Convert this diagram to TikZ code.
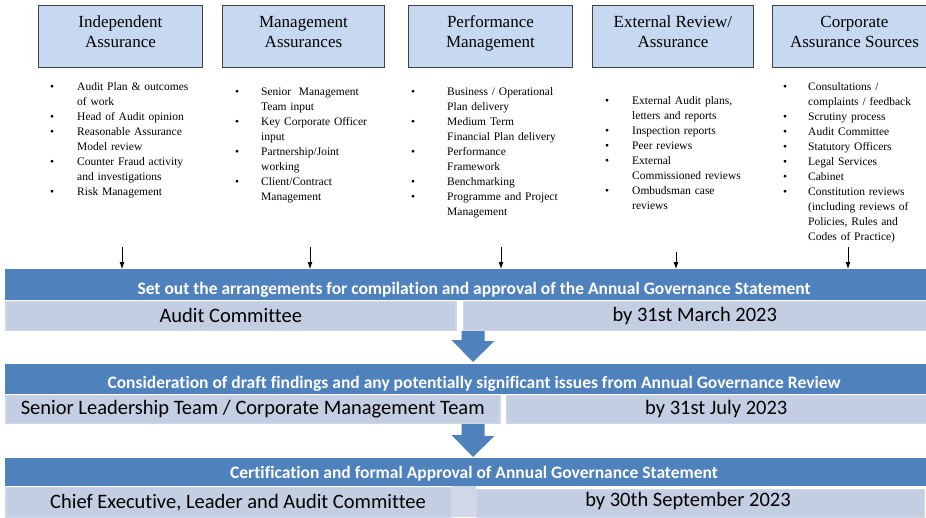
\documentclass[tikz,border=0pt]{standalone}
\usepackage{fontspec}
\setmainfont{Liberation Serif}
\newfontfamily\barfont[Ligatures=NoCommon]{Carlito}
\usepackage{enumitem}
\usetikzlibrary{positioning}
\usetikzlibrary{arrows.meta}
\definecolor{hdrfill}{HTML}{C6D9F1}
\definecolor{hdrline}{HTML}{404040}
\definecolor{barblue}{HTML}{4F81BD}
\definecolor{cellfill}{HTML}{C3CEE2}
\definecolor{celledge}{HTML}{D0D8E8}
\setlist[itemize]{nosep, label={\textbullet}, labelwidth=4pt, labelsep=*, align=right}

\tikzset{
hdr/.style={draw=hdrline, fill=hdrfill, line width=0.9pt, anchor=north west,
  minimum width=164pt, minimum height=62pt, inner sep=0pt},
hdrtext/.style={align=center, inner sep=0pt, font=\fontsize{17}{19.5}\selectfont},
blist/.style={anchor=north west, inner sep=0pt, text width=170pt,
  font=\fontsize{11.5}{15}\selectfont},
darkbar/.style={fill=barblue, anchor=north west, minimum width=921pt,
  inner sep=0pt},
bartext/.style={text=white, inner sep=0pt, font=\barfont\bfseries\fontsize{17.5}{19}\selectfont},
cell/.style={fill=cellfill, draw=celledge, line width=1.5pt, anchor=north west,
  inner sep=0pt, font=\barfont\fontsize{20.5}{22}\selectfont},
celltext/.style={inner sep=0pt, font=\barfont\fontsize{20.5}{22}\selectfont},
gap/.style={fill=celledge, anchor=north west, inner sep=0pt},
smallarr/.style={-{Latex[length=7pt,width=5pt]}, line width=0.8pt},
bigarr/.style={fill=barblue},
}

\begin{document}
\begin{tikzpicture}[x=1pt,y=-1pt]
\useasboundingbox (0,0) rectangle (926,517);

% assurance sources
\node[hdr] (hIndep) at (38,5) {};
\node[hdr, minimum width=162pt] (hMgmt) at (222,5) {};
\node[hdr] (hPerf) at (408,5) {};
\node[hdr, minimum width=161pt] (hExt) at (592,5) {};
\node[hdr] (hCorp) at (772,5) {};
\node[hdrtext] (hIndepTxt) at ([yshift=3pt]hIndep.center) {\strut Independent\\\strut Assurance};
\node[hdrtext] (hMgmtTxt) at ([yshift=3pt]hMgmt.center) {\strut Management\\\strut Assurances};
\node[hdrtext] (hPerfTxt) at ([yshift=3pt]hPerf.center) {\strut Performance\\\strut Management};
\node[hdrtext] (hExtTxt) at ([yshift=3pt]hExt.center) {\strut External Review/\\\strut Assurance};
\node[hdrtext] (hCorpTxt) at ([yshift=3pt]hCorp.center) {\strut Corporate\\\strut Assurance Sources};

\node[blist] (lIndep) at (50,75) {\begin{itemize}[leftmargin=27pt]
\item Audit Plan \& outcomes\\ of work
\item Head of Audit opinion
\item Reasonable Assurance\\ Model review
\item Counter Fraud activity\\ and investigations
\item Risk Management
\end{itemize}};
\node[blist] (lMgmt) at (235,80) {\begin{itemize}[leftmargin=26pt]
\item Senior\ \ Management\\ Team input
\item Key Corporate Officer\\ input
\item Partnership/Joint\\ working
\item Client/Contract\\ Management
\end{itemize}};
\node[blist] (lPerf) at (411,80) {\begin{itemize}[leftmargin=36pt]
\item Business / Operational\\ Plan delivery
\item Medium Term\\ Financial Plan delivery
\item Performance\\ Framework
\item Benchmarking
\item Programme and Project\\ Management
\end{itemize}};
\node[blist] (lExt) at (605,89) {\begin{itemize}[leftmargin=27pt]
\item External Audit plans,\\ letters and reports
\item Inspection reports
\item Peer reviews
\item External\\ Commissioned reviews
\item Ombudsman case\\ reviews
\end{itemize}};
\node[blist] (lCorp) at (783,75) {\begin{itemize}[leftmargin=25pt]
\item Consultations /\\ complaints / feedback
\item Scrutiny process
\item Audit Committee
\item Statutory Officers
\item Legal Services
\item Cabinet
\item Constitution reviews\\ (including reviews of\\ Policies, Rules and\\ Codes of Practice)
\end{itemize}};

% stage 1
\node[darkbar, minimum height=31pt] (bar1) at (5,269) {};
\node[bartext] (bar1txt) at (474,290) {Set out the arrangements for compilation and approval of the Annual Governance Statement};
\node[cell, minimum width=450pt, minimum height=29pt] (who1) at (5,300.5) {Audit Committee};
\node[cell, minimum width=463pt, minimum height=29pt] (when1) at (462.5,300.5) {by 31st March 2023};

\coordinate (a1) at (122,247);
\coordinate (a2) at (310,247);
\coordinate (a3) at (501,247);
\coordinate (a4) at (676,252);
\coordinate (a5) at (848,247);
\foreach \n in {a1,a2,a3,a4,a5}
  \draw[smallarr] (\n) -- (\n |- bar1.north);

% stage 2
\node[darkbar, minimum height=30pt] (bar2) at (5,364) {};
\node[bartext] (bar2txt) at (474,384) {Consideration of draft findings and any potentially significant issues from Annual Governance Review};
\node[cell, minimum width=494pt, minimum height=28pt] (who2) at (5,394.5) {Senior Leadership Team / Corporate Management Team};
\node[cell, minimum width=420pt, minimum height=28pt] (when2) at (505.5,394.5) {by 31st July 2023};

\coordinate (dn1) at (who1.south -| 473,0);
\coordinate (dn1tip) at (473,362);
\fill[bigarr] (dn1) ++(-11.5,0) -- ++(23,0) -- ++(0,10) -- ++(10,0) -- (dn1tip)
  -- ++(-21.5,-22) -- ++(10,0) -- cycle;

% stage 3
\node[darkbar, minimum height=28pt] (bar3) at (5,458) {};
\node[bartext] (bar3txt) at (474,474) {Certification and formal Approval of Annual Governance Statement};
\node[gap, minimum width=24pt, minimum height=31pt] (gap3) at (452,486) {};
\node[cell, minimum width=446pt, minimum height=30pt] (who3) at (5,486.5) {};
\node[cell, minimum width=448pt, minimum height=28pt] (when3) at (475.5,488.5) {};
\node[celltext] (who3txt) at (238,503) {Chief Executive, Leader and Audit Committee};
\node[celltext] (when3txt) at (688,501.5) {by 30th September 2023};

\coordinate (dn2) at (who2.south -| 473,0);
\coordinate (dn2tip) at (473,457);
\fill[bigarr] (dn2) ++(-11.5,0) -- ++(23,0) -- ++(0,12) -- ++(10,0) -- (dn2tip)
  -- ++(-21.5,-22) -- ++(10,0) -- cycle;
\end{tikzpicture}
\end{document}
